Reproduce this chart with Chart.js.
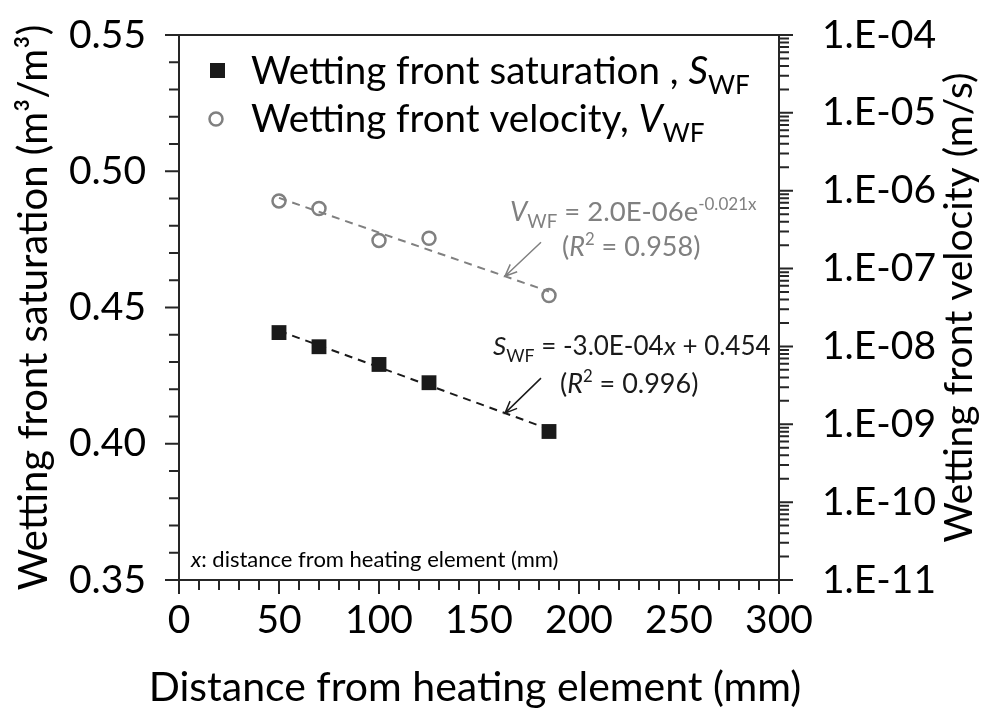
<!DOCTYPE html>
<html>
<head>
<meta charset="utf-8">
<script src="https://cdn.jsdelivr.net/npm/chart.js@4.4.1/dist/chart.umd.min.js"></script>
<style>
  html, body { margin: 0; padding: 0; background: #fff; }
  #contenedor { width: 981px; height: 719px; }
</style>
</head>
<body>
<div id="contenedor"><canvas id="grafico" width="981" height="719"></canvas></div>
<script>
// datos
const distancia = [50, 70, 100, 125, 185]
const saturacion = [0.4408, 0.4356, 0.4291, 0.4224, 0.4045]
const velocidad = [7.4e-7, 5.9e-7, 2.3e-7, 2.45e-7, 4.5e-8]
const ticks_x = [0, 50, 100, 150, 200, 250, 300]
const ticks_sat = [0.35, 0.40, 0.45, 0.50, 0.55]
const ticks_vel = [1e-11, 1e-10, 1e-9, 1e-8, 1e-7, 1e-6, 1e-5, 1e-4]

const fuente = "Lato"
const negro = "#1a1a1a"
const gris = "#808080"

// ajuste por minimos cuadrados (lo que hace la linea de tendencia de excel)
function ajuste_lineal(xs, ys) {
    const n = xs.length
    const mx = xs.reduce((a, b) => a + b, 0) / n
    const my = ys.reduce((a, b) => a + b, 0) / n
    let sxx = 0, sxy = 0
    for (let i = 0; i < n; i++) {
        sxx += (xs[i] - mx) * (xs[i] - mx)
        sxy += (xs[i] - mx) * (ys[i] - my)
    }
    const m = sxy / sxx
    return { m: m, b: my - m * mx }
}

const fit_sat = ajuste_lineal(distancia, saturacion)
const fit_vel = ajuste_lineal(distancia, velocidad.map(v => Math.log(v)))
const x_ini = distancia[0]
const x_fin = distancia[distancia.length - 1]

function recta_sat(x) { return fit_sat.m * x + fit_sat.b }
function curva_vel(x) { return Math.exp(fit_vel.m * x + fit_vel.b) }

function etiqueta_log(v) {
    const e = Math.round(Math.log10(v))
    return "1.E" + (e < 0 ? "-" : "+") + String(Math.abs(e)).padStart(2, "0")
}

// dibuja texto con partes en cursiva / subindice / superindice
function texto_mixto(ctx, partes, x, y, tam, color) {
    ctx.save()
    ctx.fillStyle = color
    ctx.textBaseline = "alphabetic"
    ctx.textAlign = "left"
    let px = x
    for (const p of partes) {
        let t = tam, dy = 0, estilo = ""
        if (p.i) estilo = "italic "
        if (p.sub) { t = tam * 0.68; dy = tam * 0.25 }
        if (p.sup) { t = tam * 0.62; dy = -tam * 0.42 }
        ctx.font = estilo + t + "px " + fuente
        ctx.fillText(p.t, px, y + dy)
        px += ctx.measureText(p.t).width
    }
    ctx.restore()
}

function flecha(ctx, x1, y1, x2, y2, color) {
    const ang = Math.atan2(y2 - y1, x2 - x1)
    const l = 13
    ctx.save()
    ctx.strokeStyle = color
    ctx.lineWidth = 1.5
    ctx.beginPath()
    ctx.moveTo(x1, y1)
    ctx.lineTo(x2, y2)
    ctx.moveTo(x2 - l * Math.cos(ang - 0.4), y2 - l * Math.sin(ang - 0.4))
    ctx.lineTo(x2, y2)
    ctx.lineTo(x2 - l * Math.cos(ang + 0.4), y2 - l * Math.sin(ang + 0.4))
    ctx.stroke()
    ctx.restore()
}

const extras = {
    id: "extras",
    afterDraw(chart) {
        const ctx = chart.ctx
        const a = chart.chartArea
        const sx = chart.scales.x, sy = chart.scales.y, sv = chart.scales.y2

        ctx.save()
        ctx.strokeStyle = "#262626"
        ctx.lineWidth = 2
        ctx.beginPath()
        // marco
        ctx.rect(a.left, a.top, a.right - a.left, a.bottom - a.top)
        // ticks eje x
        for (let i = 0; i <= 30; i++) {
            const px = sx.getPixelForValue(i * 10)
            ctx.moveTo(px, a.bottom)
            ctx.lineTo(px, a.bottom + (i % 5 == 0 ? 14 : 10))
        }
        // ticks eje izquierdo
        for (let i = 0; i <= 20; i++) {
            const py = sy.getPixelForValue(0.35 + i * 0.01)
            ctx.moveTo(a.left, py)
            ctx.lineTo(a.left - (i % 5 == 0 ? 14 : 10), py)
        }
        // ticks eje log
        for (let d = -11; d <= -4; d++) {
            const py = sv.getPixelForValue(Math.pow(10, d))
            ctx.moveTo(a.right, py)
            ctx.lineTo(a.right + 14, py)
            if (d == -4) continue
            for (let k = 2; k <= 9; k++) {
                const pm = sv.getPixelForValue(k * Math.pow(10, d))
                ctx.moveTo(a.right, pm)
                ctx.lineTo(a.right + 10, pm)
            }
        }
        ctx.stroke()
        ctx.restore()

        // titulo eje x (sin el limite de ancho del eje)
        ctx.save()
        ctx.fillStyle = "#000"
        ctx.textAlign = "center"
        ctx.textBaseline = "middle"
        ctx.font = "41px " + fuente
        ctx.fillText("Distance from heating element (mm)", (a.left + a.right) / 2 - 4, 688)

        // titulo eje derecho (rotado como el izquierdo)
        ctx.translate(959, (a.top + a.bottom) / 2)
        ctx.rotate(-Math.PI / 2)
        ctx.font = "39px " + fuente
        ctx.fillText("Wetting front velocity (m/s)", 0, 0)
        ctx.restore()

        // leyenda
        ctx.save()
        ctx.fillStyle = negro
        ctx.fillRect(a.left + 31, a.top + 28, 15, 15)
        ctx.strokeStyle = gris
        ctx.lineWidth = 2.5
        ctx.beginPath()
        ctx.arc(a.left + 37, a.top + 84, 6.5, 0, Math.PI * 2)
        ctx.stroke()
        ctx.restore()
        texto_mixto(ctx, [{ t: "Wetting front saturation , " }, { t: "S", i: true }, { t: "WF", sub: true }],
            a.left + 72, a.top + 49, 38.5, "#000")
        texto_mixto(ctx, [{ t: "Wetting front velocity, " }, { t: "V", i: true }, { t: "WF", sub: true }],
            a.left + 72, a.top + 97, 38.5, "#000")

        // ecuaciones con flechas hacia las lineas de tendencia
        const x_f = 163
        const pv = { x: sx.getPixelForValue(x_f), y: sv.getPixelForValue(curva_vel(x_f)) }
        const ps = { x: sx.getPixelForValue(x_f), y: sy.getPixelForValue(recta_sat(x_f)) }
        flecha(ctx, pv.x + 36, pv.y - 34, pv.x, pv.y, gris)
        flecha(ctx, ps.x + 36, ps.y - 35, ps.x, ps.y, negro)

        texto_mixto(ctx, [{ t: "V", i: true }, { t: "WF", sub: true }, { t: " = 2.0E-06e" }, { t: "-0.021x", sup: true }],
            pv.x + 5, pv.y - 55, 27.5, gris)
        texto_mixto(ctx, [{ t: "(" }, { t: "R", i: true }, { t: "2", sup: true }, { t: " = 0.958)" }],
            pv.x + 57, pv.y - 20, 27, gris)
        texto_mixto(ctx, [{ t: "S", i: true }, { t: "WF", sub: true }, { t: " = -3.0E-04" }, { t: "x", i: true }, { t: " + 0.454" }],
            ps.x - 12, ps.y - 58, 26, negro)
        texto_mixto(ctx, [{ t: "(" }, { t: "R", i: true }, { t: "2", sup: true }, { t: " = 0.996)" }],
            ps.x + 55, ps.y - 20, 27, negro)

        texto_mixto(ctx, [{ t: "x", i: true }, { t: ": distance from heating element (mm)" }],
            a.left + 12, a.bottom - 13, 22, "#000")
    }
}

const puntos_sat = distancia.map((x, i) => ({ x: x, y: saturacion[i] }))
const puntos_vel = distancia.map((x, i) => ({ x: x, y: velocidad[i] }))
const tendencia_sat = [x_ini, x_fin].map(x => ({ x: x, y: recta_sat(x) }))
const tendencia_vel = [x_ini, x_fin].map(x => ({ x: x, y: curva_vel(x) }))

const fuente_ticks = { family: fuente, size: 39 }

// los ticks de verdad se pintan en el plugin; tickLength solo separa las etiquetas del eje
new Chart(document.querySelector("#grafico"), {
    type: "scatter",
    data: {
        datasets: [
            {
                label: "Wetting front saturation",
                data: puntos_sat,
                yAxisID: "y",
                pointStyle: "rect",
                pointRadius: 10.5,
                backgroundColor: negro,
                borderColor: negro,
                borderWidth: 0
            },
            {
                label: "Wetting front velocity",
                data: puntos_vel,
                yAxisID: "y2",
                pointStyle: "circle",
                pointRadius: 6.5,
                backgroundColor: "rgba(0,0,0,0)",
                borderColor: gris,
                borderWidth: 2.5
            },
            {
                label: "tendencia S",
                data: tendencia_sat,
                yAxisID: "y",
                showLine: true,
                pointRadius: 0,
                borderColor: negro,
                borderWidth: 2,
                borderDash: [8, 6]
            },
            {
                label: "tendencia V",
                data: tendencia_vel,
                yAxisID: "y2",
                showLine: true,
                pointRadius: 0,
                borderColor: gris,
                borderWidth: 2,
                borderDash: [8, 6]
            }
        ]
    },
    options: {
        responsive: false,
        animation: false,
        layout: { padding: { top: 35, left: 0, right: 0, bottom: 0 } },
        plugins: {
            legend: { display: false },
            tooltip: { enabled: false }
        },
        scales: {
            x: {
                type: "linear",
                min: 0,
                max: 300,
                afterBuildTicks: s => { s.ticks = ticks_x.map(v => ({ value: v })) },
                afterFit: s => { s.height = 139 },
                grid: { display: false, drawTicks: true, tickLength: 17 },
                border: { display: false },
                ticks: { font: fuente_ticks, color: "#000", padding: 0, maxRotation: 0 }
            },
            y: {
                type: "linear",
                position: "left",
                min: 0.35,
                max: 0.55,
                afterBuildTicks: s => { s.ticks = ticks_sat.map(v => ({ value: v })) },
                afterFit: s => { s.width = 179 },
                grid: { display: false, drawTicks: true, tickLength: 33 },
                border: { display: false },
                ticks: { font: fuente_ticks, color: "#000", padding: 0, callback: v => v.toFixed(2) },
                title: {
                    display: true,
                    text: "Wetting front saturation (m³/m³)",
                    font: { family: fuente, size: 40 },
                    color: "#000",
                    padding: { top: 10 }
                }
            },
            y2: {
                type: "logarithmic",
                position: "right",
                min: 1e-11,
                max: 1e-4,
                afterBuildTicks: s => { s.ticks = ticks_vel.map(v => ({ value: v })) },
                afterFit: s => { s.width = 202 },
                grid: { display: false, drawTicks: true, tickLength: 43 },
                border: { display: false },
                ticks: { font: fuente_ticks, color: "#000", padding: 0, autoSkip: false, callback: v => etiqueta_log(v) }
            }
        }
    },
    plugins: [extras]
})
</script>
</body>
</html>
